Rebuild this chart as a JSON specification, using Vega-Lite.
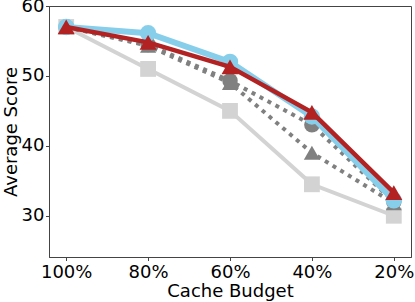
{
  "$schema": "https://vega.github.io/schema/vega-lite/v6.json",
  "width": 362,
  "height": 251,
  "autosize": "none",
  "padding": {"left": 49, "top": 6, "right": 4, "bottom": 45},
  "config": {
    "font": "DejaVu Sans",
    "view": {"stroke": "#444", "strokeWidth": 1},
    "axis": {
      "labelFont": "DejaVu Sans", "labelFontSize": 18, "labelColor": "#000",
      "titleFont": "DejaVu Sans", "titleFontSize": 18, "titleFontWeight": "normal", "titleColor": "#000",
      "domainColor": "#444", "tickColor": "#444", "tickSize": 3.5, "grid": false
    }
  },
  "data": {
    "values": [
      {"budget": "100%", "series": "S1", "score": 57},
      {"budget": "80%", "series": "S1", "score": 51},
      {"budget": "60%", "series": "S1", "score": 45},
      {"budget": "40%", "series": "S1", "score": 34.5},
      {"budget": "20%", "series": "S1", "score": 30},
      {"budget": "100%", "series": "S2", "score": 57},
      {"budget": "80%", "series": "S2", "score": 54.5},
      {"budget": "60%", "series": "S2", "score": 49.3},
      {"budget": "40%", "series": "S2", "score": 43},
      {"budget": "20%", "series": "S2", "score": 32},
      {"budget": "100%", "series": "S3", "score": 57},
      {"budget": "80%", "series": "S3", "score": 54.3},
      {"budget": "60%", "series": "S3", "score": 49},
      {"budget": "40%", "series": "S3", "score": 39},
      {"budget": "20%", "series": "S3", "score": 31.8},
      {"budget": "100%", "series": "S4", "score": 57},
      {"budget": "80%", "series": "S4", "score": 56.1},
      {"budget": "60%", "series": "S4", "score": 52},
      {"budget": "40%", "series": "S4", "score": 44.2},
      {"budget": "20%", "series": "S4", "score": 32.2},
      {"budget": "100%", "series": "S5", "score": 57},
      {"budget": "80%", "series": "S5", "score": 54.8},
      {"budget": "60%", "series": "S5", "score": 51.3},
      {"budget": "40%", "series": "S5", "score": 44.8},
      {"budget": "20%", "series": "S5", "score": 33.3}
    ]
  },
  "encoding": {
    "x": {
      "field": "budget", "type": "ordinal",
      "sort": ["100%", "80%", "60%", "40%", "20%"],
      "scale": {"type": "point", "padding": 0.21},
      "axis": {"title": "Cache Budget", "labelAngle": 0, "labelPadding": 3, "titlePadding": 1}
    },
    "y": {
      "field": "score", "type": "quantitative",
      "scale": {"domain": [24.1, 60], "nice": false, "zero": false},
      "axis": {"title": "Average Score", "values": [30, 40, 50, 60], "labelPadding": 1.5, "titlePadding": 1}
    }
  },
  "layer": [
    {
      "transform": [{"filter": "datum.series === 'S1'"}],
      "mark": {"type": "line", "color": "#d3d3d3", "strokeWidth": 4,
        "point": {"shape": "square", "size": 250, "filled": true, "color": "#d3d3d3", "opacity": 1}}
    },
    {
      "transform": [{"filter": "datum.series === 'S2'"}],
      "mark": {"type": "line", "color": "#808080", "strokeWidth": 4, "strokeDash": [4, 5],
        "point": {"shape": "circle", "size": 240, "filled": true, "color": "#808080", "opacity": 1}}
    },
    {
      "transform": [{"filter": "datum.series === 'S3'"}],
      "mark": {"type": "line", "color": "#808080", "strokeWidth": 4, "strokeDash": [4, 5],
        "point": {"shape": "triangle-up", "size": 260, "filled": true, "color": "#808080", "opacity": 1}}
    },
    {
      "transform": [{"filter": "datum.series === 'S4'"}],
      "mark": {"type": "line", "color": "#87ceeb", "strokeWidth": 6,
        "point": {"shape": "circle", "size": 270, "filled": true, "color": "#87ceeb", "opacity": 1}}
    },
    {
      "transform": [{"filter": "datum.series === 'S5'"}],
      "mark": {"type": "line", "color": "#b22222", "strokeWidth": 4.5,
        "point": {"shape": "triangle-up", "size": 290, "filled": true, "color": "#b22222", "opacity": 1}}
    }
  ]
}
